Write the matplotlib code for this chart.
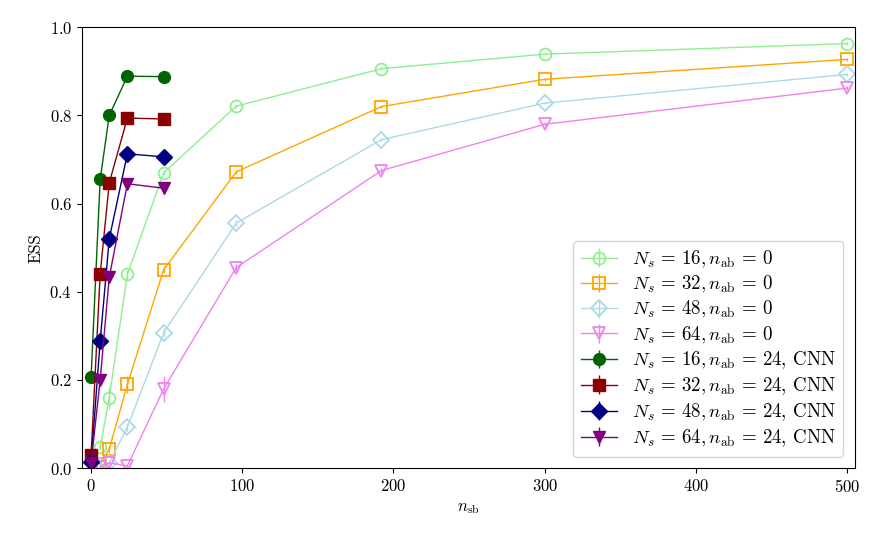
import numpy as np
import matplotlib
matplotlib.use('Agg')
import matplotlib.pyplot as plt

plt.rcParams['font.family'] = 'serif'
plt.rcParams['font.serif'] = ['cmr10']
plt.rcParams['mathtext.fontset'] = 'cm'
plt.rcParams['axes.formatter.use_mathtext'] = True
plt.rcParams['font.size'] = 12

# n_sb values
x_open = [6, 12, 24, 48, 96, 192, 300, 500]
x_cnn = [0, 6, 12, 24, 48]

# ESS, no absorbing blocks
ess_16 = [0.047, 0.16, 0.44, 0.67, 0.821, 0.906, 0.939, 0.963]
ess_32 = [0.010, 0.043, 0.19, 0.45, 0.672, 0.82, 0.882, 0.927]
ess_48 = [0.005, 0.012, 0.093, 0.307, 0.556, 0.745, 0.828, 0.893]
ess_64 = [0.003, 0.012, 0.005, 0.18, 0.455, 0.675, 0.78, 0.862]
err_16 = [0.005, 0.025, 0.01, 0.006, 0.004, 0.003, 0.003, 0.003]
err_32 = [0.003, 0.008, 0.02, 0.008, 0.005, 0.003, 0.003, 0.003]
err_48 = [0.002, 0.004, 0.01, 0.01, 0.006, 0.004, 0.003, 0.003]
err_64 = [0.002, 0.004, 0.004, 0.03, 0.008, 0.005, 0.004, 0.004]

# ESS, n_ab = 24 with CNN
cnn_16 = [0.207, 0.655, 0.80, 0.889, 0.888]
cnn_32 = [0.030, 0.44, 0.647, 0.794, 0.792]
cnn_48 = [0.015, 0.288, 0.52, 0.713, 0.706]
cnn_64 = [0.012, 0.20, 0.433, 0.645, 0.635]
cnn_err = [0.004, 0.006, 0.005, 0.003, 0.003]

fig = plt.figure(figsize=(8.82, 5.45), dpi=100)
ax = fig.add_axes([0.093, 0.141, 0.876, 0.809])

open_series = [(ess_16, err_16, 16, 'lightgreen', 'o'),
               (ess_32, err_32, 32, 'orange', 's'),
               (ess_48, err_48, 48, 'lightblue', 'D'),
               (ess_64, err_64, 64, 'violet', 'v')]
for y, e, ns, c, m in open_series:
    ax.errorbar(x_open, y, yerr=e, color=c, marker=m, markersize=8.5,
                markerfacecolor='none', markeredgewidth=1.3, linewidth=1,
                label=r'$N_s \,=\, %d, n_{\rm ab} \,=\, 0$' % ns)

cnn_series = [(cnn_16, 16, 'darkgreen', 'o'),
              (cnn_32, 32, 'darkred', 's'),
              (cnn_48, 48, 'navy', 'D'),
              (cnn_64, 64, 'purple', 'v')]
for y, ns, c, m in cnn_series:
    ax.errorbar(x_cnn, y, yerr=cnn_err, color=c, marker=m, markersize=8.5,
                linewidth=1,
                label=r'$N_s \,=\, %d, n_{\rm ab} \,=\, 24$, CNN' % ns)

ax.set_xlim(-6, 505)
ax.set_ylim(0, 1.0)
ax.set_xlabel(r'$n_{\rm sb}$')
ax.set_ylabel('ESS')
ax.legend(loc='lower right', fontsize=13.6, handlelength=1.9,
          labelspacing=0.22, borderaxespad=0.6)

plt.savefig('out.png', dpi=100)
